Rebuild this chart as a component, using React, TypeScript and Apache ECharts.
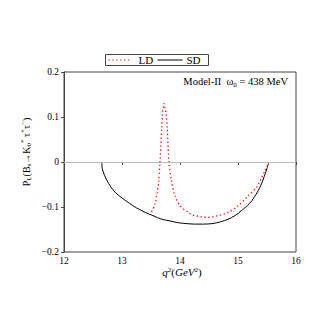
import React, { useEffect, useRef } from "react";
import * as echarts from "echarts";

const xTicks = [12, 13, 14, 15, 16];
const yTicks = [-0.2, -0.1, 0, 0.1, 0.2];
const seriesNames = ["LD", "SD"];

const sdData: [number, number][] = [
  [12.65, 0], [12.655, -0.008], [12.66, -0.015], [12.7, -0.03], [12.74, -0.041], [12.8, -0.054],
  [12.88, -0.067], [13.0, -0.08], [13.11, -0.09], [13.25, -0.102], [13.4, -0.112], [13.55, -0.12],
  [13.68, -0.127], [13.83, -0.131], [13.97, -0.135], [14.12, -0.137], [14.26, -0.138], [14.4, -0.138],
  [14.55, -0.137], [14.7, -0.133], [14.83, -0.127], [14.95, -0.119], [15.06, -0.108], [15.16, -0.097],
  [15.24, -0.086], [15.31, -0.072], [15.38, -0.056], [15.43, -0.04], [15.47, -0.026], [15.5, -0.014],
  [15.534, 0],
];

const ldData: [number, number][] = [
  [13.51, -0.111], [13.57, -0.093], [13.6, -0.072], [13.63, -0.045], [13.655, 0], [13.685, 0.074],
  [13.7, 0.108], [13.715, 0.125], [13.724, 0.13], [13.735, 0.124], [13.759, 0.108], [13.781, 0.074],
  [13.81, 0], [13.857, -0.045], [13.914, -0.075], [14.0, -0.097], [14.143, -0.112], [14.2, -0.117],
  [14.374, -0.122], [14.46, -0.123], [14.66, -0.119], [14.833, -0.112], [15.005, -0.097],
  [15.178, -0.075], [15.32, -0.056], [15.408, -0.034], [15.47, -0.018], [15.534, 0],
];

const SERIF = "'Liberation Serif', 'DejaVu Serif', serif";
const RED = "#ff0000";
const DOT: number[] = [1.3, 2.6];

export default function App() {
  const ref = useRef<HTMLDivElement>(null);
  useEffect(() => {
    if (!ref.current) return;
    const chart = echarts.init(ref.current, null, { renderer: "svg" });
    chart.setOption({
      animation: false,
      backgroundColor: "#fff",
      textStyle: { fontFamily: SERIF },
      grid: { left: 64, right: 31, top: 72, bottom: 75, show: true, borderColor: "#444", borderWidth: 1 },
      xAxis: {
        type: "value",
        min: xTicks[0],
        max: xTicks[xTicks.length - 1],
        interval: 1,
        splitLine: { show: false },
        axisLine: { lineStyle: { color: "#444" } },
        axisTick: { show: true, inside: false, length: 3, lineStyle: { color: "#444" } },
        axisLabel: { color: "#000", fontSize: 9.5, fontFamily: SERIF, margin: 4 },
      },
      yAxis: {
        type: "value",
        min: yTicks[0],
        max: yTicks[yTicks.length - 1],
        interval: 0.1,
        splitLine: { show: false },
        axisLine: { show: true, onZero: false, lineStyle: { color: "#444" } },
        axisTick: { show: true, inside: false, length: 3, lineStyle: { color: "#444" } },
        axisLabel: {
          color: "#000",
          fontSize: 9.5,
          fontFamily: SERIF,
          margin: 5,
          formatter: (v: number) => {
            const r = Math.round(v * 10) / 10;
            if (r === 0) return "0";
            return (r < 0 ? "\u2212" : "") + Math.abs(r).toFixed(1);
          },
        },
      },
      series: [
        {
          name: seriesNames[0],
          type: "line",
          data: ldData,
          symbol: "none",
          smooth: 0.3,
          lineStyle: { color: RED, width: 1.3, type: DOT },
          itemStyle: { color: RED },
          z: 3,
        },
        {
          name: seriesNames[1],
          type: "line",
          data: sdData,
          symbol: "none",
          smooth: 0.3,
          lineStyle: { color: "#000", width: 1 },
          itemStyle: { color: "#000" },
          z: 2,
          markLine: {
            silent: true,
            symbol: "none",
            label: { show: false },
            lineStyle: { color: "#bbb", width: 1, type: "solid" },
            data: [{ yAxis: 0 }],
          },
        },
      ],
      graphic: [
        {
          type: "group",
          left: 105,
          top: 54,
          children: [
            { type: "rect", shape: { x: 0, y: 0, width: 103, height: 11 }, style: { fill: "#fff", stroke: "#444", lineWidth: 1 } },
            { type: "line", shape: { x1: 3, y1: 5.5, x2: 25, y2: 5.5 }, style: { stroke: RED, lineWidth: 1.2, lineDash: DOT } },
            { type: "text", x: 33, y: 5.5, style: { text: seriesNames[0], fontFamily: SERIF, fontSize: 11, fill: "#000", verticalAlign: "middle" } },
            { type: "line", shape: { x1: 52, y1: 5.5, x2: 77, y2: 5.5 }, style: { stroke: "#000", lineWidth: 1 } },
            { type: "text", x: 81, y: 5.5, style: { text: seriesNames[1], fontFamily: SERIF, fontSize: 11, fill: "#000", verticalAlign: "middle" } },
          ],
        },
        {
          type: "text",
          right: 39,
          top: 75,
          style: {
            text: "Model-II  \u03c9{sub|0} = 438 MeV",
            fontFamily: SERIF,
            fontSize: 10.5,
            fill: "#000",
            rich: {
              sub: { fontSize: 7, fontFamily: SERIF, verticalAlign: "bottom", lineHeight: 14, padding: [6, 0, 0, 0] },
            },
          },
        },
        {
          type: "text",
          x: 26,
          y: 152,
          rotation: Math.PI / 2,
          style: {
            text: "P{sub|L}({ssub|}B{sub|s}\u2192K{sub|0}{sup|*} \u03c4{sup|+}\u03c4{sup|\u2212})",
            fontFamily: SERIF,
            fontSize: 10,
            fill: "#000",
            align: "center",
            verticalAlign: "middle",
            rich: {
              sub: { fontSize: 7, fontFamily: SERIF, padding: [6, 0, 0, 0] },
              sup: { fontSize: 7, fontFamily: SERIF, padding: [0, 0, 6, 0] },
              ssub: { fontSize: 2 },
            },
          },
        },
        {
          type: "text",
          x: 182,
          y: 272,
          style: {
            text: "{it|q}{sup|2}({it|GeV}{sup|2})",
            fontFamily: SERIF,
            fontSize: 11,
            fill: "#000",
            align: "center",
            verticalAlign: "middle",
            rich: {
              it: { fontStyle: "italic", fontSize: 11, fontFamily: SERIF },
              sup: { fontSize: 7, fontFamily: SERIF, padding: [0, 0, 4, 0] },
            },
          },
        },
      ],
    });
    return () => chart.dispose();
  }, []);
  return <div ref={ref} style={{ width: 327, height: 327, position: "absolute", left: 0, top: 0 }} />;
}
